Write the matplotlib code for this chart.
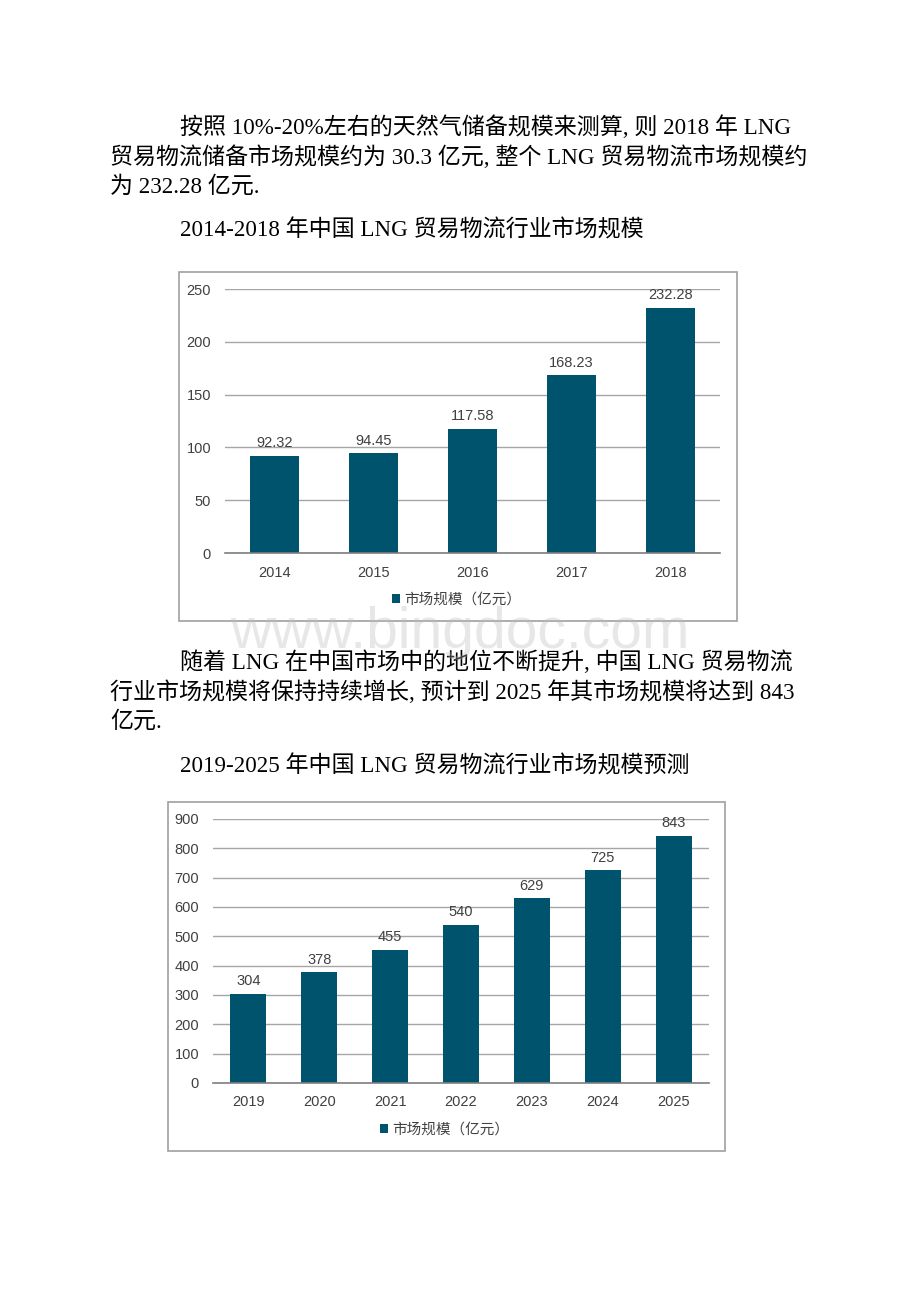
import matplotlib
matplotlib.use("Agg")
import matplotlib.pyplot as plt
from matplotlib.patches import Rectangle

# ---- data ----
years_hist = ["2014", "2015", "2016", "2017", "2018"]
size_hist = [92.32, 94.45, 117.58, 168.23, 232.28]
labels_hist = ["92.32", "94.45", "117.58", "168.23", "232.28"]

years_fc = ["2019", "2020", "2021", "2022", "2023", "2024", "2025"]
size_fc = [304, 378, 455, 540, 629, 725, 843]
labels_fc = ["304", "378", "455", "540", "629", "725", "843"]

series_name = "市场规模（亿元）"
yticks_hist = [0, 50, 100, 150, 200, 250]
yticks_fc = [0, 100, 200, 300, 400, 500, 600, 700, 800, 900]

para1 = ["按照 10%-20%左右的天然气储备规模来测算, 则 2018 年 LNG",
         "贸易物流储备市场规模约为 30.3 亿元, 整个 LNG 贸易物流市场规模约",
         "为 232.28 亿元."]
title1 = "2014-2018 年中国 LNG 贸易物流行业市场规模"
para2 = ["随着 LNG 在中国市场中的地位不断提升, 中国 LNG 贸易物流",
         "行业市场规模将保持持续增长, 预计到 2025 年其市场规模将达到 843",
         "亿元."]
title2 = "2019-2025 年中国 LNG 贸易物流行业市场规模预测"
watermark = "www.bingdoc.com"

# ---- style ----
W, H = 920, 1302
BAR = "#00536D"
GRID = "#A6A6A6"
TXT = "#404040"
serif = ["Liberation Serif", "Noto Sans CJK SC"]
sans = ["Liberation Sans", "Noto Sans CJK SC"]
plt.rcParams["font.family"] = sans

fig = plt.figure(figsize=(W / 100, H / 100), dpi=100)
fig.patch.set_facecolor("white")


def fx(x):
    return x / W


def fy(y):
    return 1 - y / H


BODY = 16.6


def body(x, y, s):
    fig.text(fx(x), fy(y), s, family=serif, fontsize=BODY, color="black",
             ha="left", va="center")


for i, line in enumerate(para1):
    body(180 if i == 0 else 110, 127 + 30 * i, line)
body(180, 230, title1)
for i, line in enumerate(para2):
    body(180 if i == 0 else 110, 662 + 30 * i, line)
body(180, 766, title2)


def frame(x0, y0, x1, y1):
    fig.patches.append(Rectangle((fx(x0), fy(y1)), fx(x1) - fx(x0), fy(y0) - fy(y1),
                                 transform=fig.transFigure, fill=False,
                                 edgecolor="#A0A0A0", linewidth=1.2, zorder=0))


def chart(left, right, top, bottom, cats, vals, labs, yt, legend_x, legend_y, width):
    ax = fig.add_axes([fx(left), fy(bottom), fx(right) - fx(left), (bottom - top) / H])
    x = range(len(cats))
    bars = ax.bar(x, vals, width=width, color=BAR, label=series_name, zorder=3)
    ax.set_xlim(-0.5, len(cats) - 0.5)
    ax.set_ylim(yt[0], yt[-1])
    ax.set_yticks(yt)
    ax.set_xticks(list(x))
    ax.set_xticklabels(cats)
    ax.tick_params(axis="both", length=0, labelsize=10.5, colors=TXT)
    ax.tick_params(axis="y", pad=10)
    ax.tick_params(axis="x", pad=9)
    ax.yaxis.grid(True, color=GRID, linewidth=1.0, zorder=0)
    ax.set_axisbelow(True)
    for s in ["top", "right", "left"]:
        ax.spines[s].set_visible(False)
    ax.spines["bottom"].set_color("#7F7F7F")
    ax.spines["bottom"].set_linewidth(1.2)
    ax.spines["bottom"].set_zorder(4)
    ax.bar_label(bars, labels=labs, padding=4, fontsize=10.5, color=TXT)
    ax.legend(loc="center", bbox_to_anchor=(fx(legend_x), fy(legend_y)),
              bbox_transform=fig.transFigure, frameon=False, fontsize=10.5,
              handlelength=0.55, handleheight=0.55, handletextpad=0.3,
              labelcolor=TXT)
    return ax


frame(179, 272, 737, 621)
chart(225, 720, 289, 553, years_hist, size_hist, labels_hist, yticks_hist, 457, 600, 0.5)

frame(168, 802, 725, 1151)
chart(213, 709, 819, 1083, years_fc, size_fc, labels_fc, yticks_fc, 445, 1130, 0.51)

fig.text(fx(460), fy(633), watermark, family="Liberation Sans", fontsize=41,
         color="#BBBBBB", alpha=0.35, ha="center", va="center", zorder=10)

fig.savefig("out.png", dpi=100, facecolor="white")
